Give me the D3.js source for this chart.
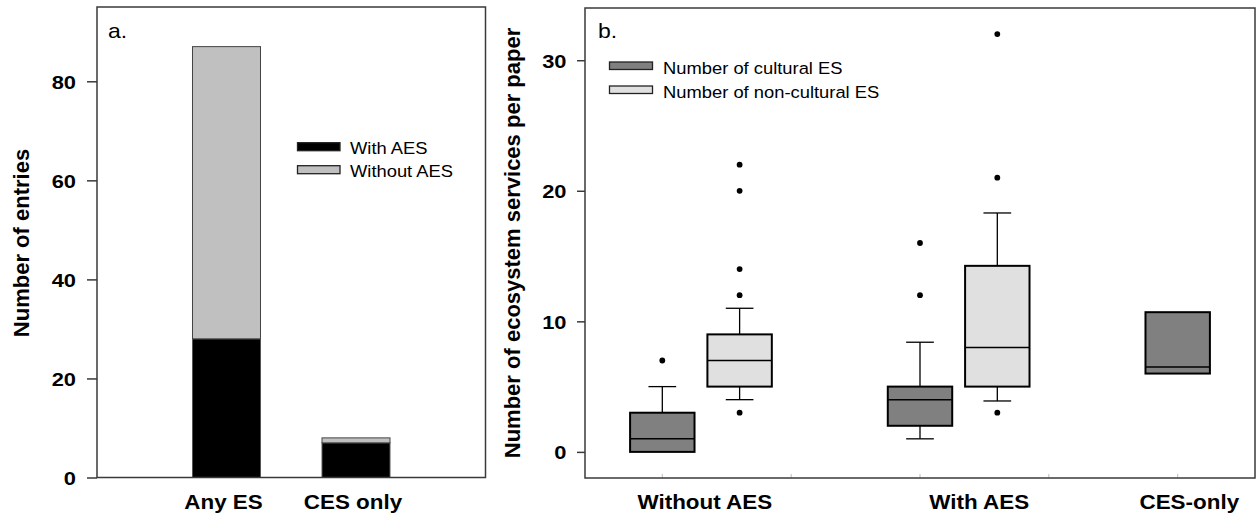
<!DOCTYPE html>
<html>
<head>
<meta charset="utf-8">
<script src="https://cdn.jsdelivr.net/npm/d3@7/dist/d3.min.js"></script>
<style>
  body { margin: 0; background: #fff; }
  svg { display: block; font-family: "Liberation Sans", Arial, sans-serif; }
</style>
</head>
<body>
<svg id="chart" width="1257" height="522"></svg>
<script>
// ---------- Panel a data ----------
const barCategories = ["Any ES", "CES only"];
const withAES = [28, 7];
const withoutAES = [59, 1];
const barTicks = [0, 20, 40, 60, 80];
const barLegend = ["With AES", "Without AES"];

// ---------- Panel b data ----------
const boxGroups = ["Without AES", "With AES", "CES-only"];
// cultural ES (one box per group)
const culturalQ1 = [0, 2, 6];
const culturalMedian = [1, 4, 6.5];
const culturalQ3 = [3, 5, 10.7];
const culturalLow = [0, 1, 6];
const culturalHigh = [5, 8.4, 10.7];
const culturalOutliers = [[7], [12, 16], []];
// non-cultural ES (no CES-only box)
const nonCulturalQ1 = [5, 5];
const nonCulturalMedian = [7, 8];
const nonCulturalQ3 = [9, 14.25];
const nonCulturalLow = [4, 3.9];
const nonCulturalHigh = [11, 18.3];
const nonCulturalOutliers = [[3, 12, 14, 20, 22], [3, 21, 32]];
const boxTicks = [0, 10, 20, 30];
const boxLegend = ["Number of cultural ES", "Number of non-cultural ES"];

const svg = d3.select("#chart");
const SX = 1.15;   // horizontal text stretch seen in the reference
const frameColor = "#3a3a3a";

function stretchedText(g, x, y, str, size, weight, anchor, sx) {
  return g.append("text")
    .attr("transform", `translate(${x},${y}) scale(${sx},1)`)
    .attr("text-anchor", anchor)
    .attr("font-size", size)
    .attr("font-weight", weight)
    .attr("fill", "#000")
    .text(str);
}

// ================= Panel a =================
const A = { left: 97, right: 485.5, top: 7, bottom: 477.5 };
const xA = d3.scaleLinear().domain([0, 3]).range([A.left, A.right]);
const yA = d3.scaleLinear().domain([0, 95]).range([A.bottom, A.top]);
const barW = xA(0.525) - xA(0);
const gA = svg.append("g");

barCategories.forEach((c, i) => {
  const cx = xA(i + 1);
  gA.append("rect")
    .attr("x", cx - barW / 2).attr("width", barW)
    .attr("y", yA(withAES[i])).attr("height", yA(0) - yA(withAES[i]))
    .attr("fill", "#000").attr("stroke", "#555").attr("stroke-width", 1);
  const top = withAES[i] + withoutAES[i];
  gA.append("rect")
    .attr("x", cx - barW / 2).attr("width", barW)
    .attr("y", yA(top)).attr("height", yA(withAES[i]) - yA(top))
    .attr("fill", "#c0c0c0").attr("stroke", "#444").attr("stroke-width", 1);
});

// frame
gA.append("rect")
  .attr("x", A.left).attr("y", A.top)
  .attr("width", A.right - A.left).attr("height", A.bottom - A.top)
  .attr("fill", "none").attr("stroke", frameColor).attr("stroke-width", 1.5);

// y axis
const axA = gA.append("g").attr("transform", `translate(${A.left},0)`)
  .call(d3.axisLeft(yA).tickValues(barTicks).tickSize(10).tickPadding(0));
axA.select(".domain").remove();
axA.selectAll(".tick line").attr("stroke", frameColor).attr("stroke-width", 1.5);
axA.selectAll(".tick text")
  .attr("x", null).attr("dy", null)
  .attr("transform", `translate(-21,7) scale(${SX},1)`)
  .attr("font-size", 19).attr("font-weight", "bold")
  .attr("font-family", "Liberation Sans, Arial, sans-serif")
  .attr("fill", "#000");

// x labels
barCategories.forEach((c, i) => {
  stretchedText(gA, xA(i + 1) - 3, 509, c, 19.5, "bold", "middle", SX);
});

// y title
gA.append("text")
  .attr("transform", `translate(29,243) rotate(-90)`)
  .attr("text-anchor", "middle").attr("font-size", 22).attr("font-weight", "bold")
  .text("Number of entries");

// panel label
stretchedText(gA, 108, 38, "a.", 20, "normal", "start", SX);

// legend a
const legAFill = ["#000", "#c0c0c0"];
barLegend.forEach((t, i) => {
  const yy = 142.7 + i * 23;
  gA.append("rect").attr("x", 297.5).attr("y", yy).attr("width", 42.5).attr("height", 8)
    .attr("fill", legAFill[i]).attr("stroke", "#222").attr("stroke-width", 1.3);
  stretchedText(gA, 350, yy + 11, t, 17, "normal", "start", 1.08);
});

// ================= Panel b =================
const B = { left: 585, right: 1255, top: 8, bottom: 478 };
const xB = d3.scaleLinear().domain([0.4, 5.6]).range([B.left, B.right]);
const yB = d3.scaleLinear().domain([-2, 34]).range([B.bottom, B.top]);
const gB = svg.append("g");
const boxW = xB(0.5) - xB(0);
const capW = xB(0.215) - xB(0);
const culturalPos = [1, 3, 5];
const nonCulturalPos = [1.6, 3.6];
const labelPos = [1.33, 3.46, 5.09];

// faint inner ticks on bottom axis
gB.selectAll("line.minor").data([1, 2, 3, 4, 5]).join("line")
  .attr("x1", d => xB(d)).attr("x2", d => xB(d))
  .attr("y1", B.bottom).attr("y2", B.bottom - 4)
  .attr("stroke", "#bbb").attr("stroke-width", 1);

function drawBox(pos, q1, med, q3, lo, hi, outl, fill) {
  const cx = xB(pos);
  // whiskers
  if (hi > q3) {
    gB.append("line").attr("x1", cx).attr("x2", cx).attr("y1", yB(q3)).attr("y2", yB(hi))
      .attr("stroke", "#000").attr("stroke-width", 1.3);
    gB.append("line").attr("x1", cx - capW / 2).attr("x2", cx + capW / 2)
      .attr("y1", yB(hi)).attr("y2", yB(hi)).attr("stroke", "#000").attr("stroke-width", 1.3);
  }
  if (lo < q1) {
    gB.append("line").attr("x1", cx).attr("x2", cx).attr("y1", yB(q1)).attr("y2", yB(lo))
      .attr("stroke", "#000").attr("stroke-width", 1.3);
    gB.append("line").attr("x1", cx - capW / 2).attr("x2", cx + capW / 2)
      .attr("y1", yB(lo)).attr("y2", yB(lo)).attr("stroke", "#000").attr("stroke-width", 1.3);
  }
  gB.append("rect").attr("x", cx - boxW / 2).attr("width", boxW)
    .attr("y", yB(q3)).attr("height", yB(q1) - yB(q3))
    .attr("fill", fill).attr("stroke", "#000").attr("stroke-width", 2);
  gB.append("line").attr("x1", cx - boxW / 2).attr("x2", cx + boxW / 2)
    .attr("y1", yB(med)).attr("y2", yB(med)).attr("stroke", "#000").attr("stroke-width", 1.5);
  outl.forEach(v => {
    gB.append("circle").attr("cx", cx).attr("cy", yB(v)).attr("r", 2.9).attr("fill", "#000");
  });
}

culturalPos.forEach((p, i) => drawBox(p, culturalQ1[i], culturalMedian[i], culturalQ3[i],
  culturalLow[i], culturalHigh[i], culturalOutliers[i], "#808080"));
nonCulturalPos.forEach((p, i) => drawBox(p, nonCulturalQ1[i], nonCulturalMedian[i], nonCulturalQ3[i],
  nonCulturalLow[i], nonCulturalHigh[i], nonCulturalOutliers[i], "#e0e0e0"));

// frame
gB.append("rect")
  .attr("x", B.left).attr("y", B.top)
  .attr("width", B.right - B.left).attr("height", B.bottom - B.top)
  .attr("fill", "none").attr("stroke", frameColor).attr("stroke-width", 1.5);

// y axis
const axB = gB.append("g").attr("transform", `translate(${B.left},0)`)
  .call(d3.axisLeft(yB).tickValues(boxTicks).tickSize(8).tickPadding(0));
axB.select(".domain").remove();
axB.selectAll(".tick line").attr("stroke", frameColor).attr("stroke-width", 1.5);
axB.selectAll(".tick text")
  .attr("x", null).attr("dy", null)
  .attr("transform", `translate(-18.5,7) scale(${SX},1)`)
  .attr("font-size", 19).attr("font-weight", "bold")
  .attr("font-family", "Liberation Sans, Arial, sans-serif")
  .attr("fill", "#000");

// x labels
boxGroups.forEach((g, i) => {
  stretchedText(gB, xB(labelPos[i]), 509, g, 19.5, "bold", "middle", SX);
});

// y title
gB.append("text")
  .attr("transform", `translate(520,243) rotate(-90)`)
  .attr("text-anchor", "middle").attr("font-size", 22).attr("font-weight", "bold")
  .text("Number of ecosystem services per paper");

// panel label
stretchedText(gB, 598, 38, "b.", 20, "normal", "start", SX);

// legend b
const legBFill = ["#808080", "#e0e0e0"];
boxLegend.forEach((t, i) => {
  const yy = 62 + i * 24;
  gB.append("rect").attr("x", 609.5).attr("y", yy).attr("width", 43).attr("height", 7.5)
    .attr("fill", legBFill[i]).attr("stroke", "#222").attr("stroke-width", 1.3);
  stretchedText(gB, 663, yy + 11.5, t, 17, "normal", "start", 1.08);
});
</script>
</body>
</html>
